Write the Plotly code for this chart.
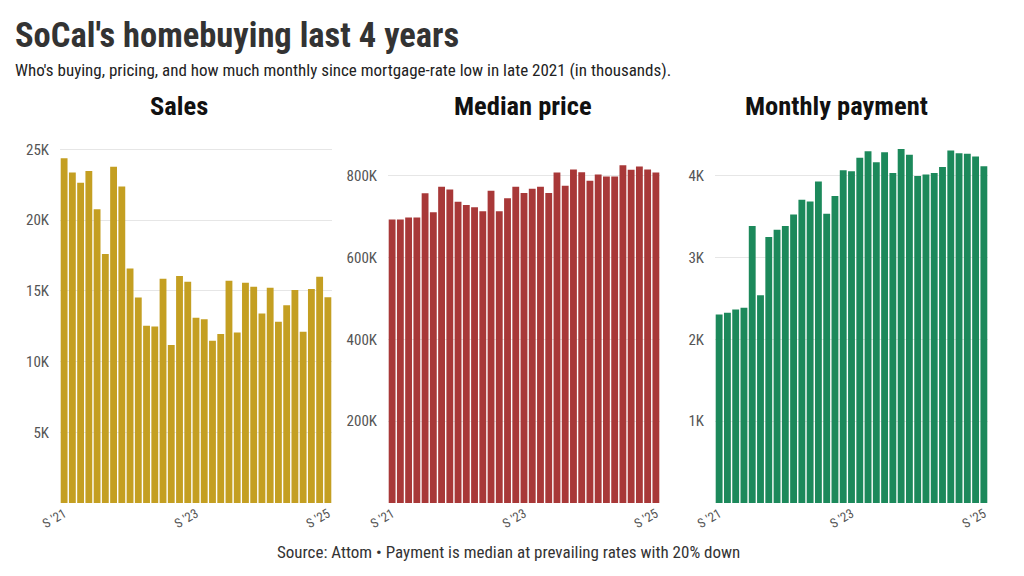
import plotly.graph_objects as go

periods = list(range(1, 34))
tick_positions = [1, 17, 33]
tick_labels = ["S '21", "S '23", "S '25"]

sales = [24.36, 23.35, 22.64, 23.46, 20.76, 17.6, 23.77, 22.36, 16.58, 14.53,
         12.53, 12.48, 15.85, 11.16, 16.04, 15.64, 13.09, 12.98, 11.46, 11.94,
         15.71, 12.05, 15.57, 15.28, 13.4, 15.21, 12.81, 13.97, 15.05, 12.1,
         15.12, 15.99, 14.55]
sales = [v * 1000 for v in sales]

price = [692.7, 692.7, 697.6, 697.6, 756.7, 710.5, 773, 766.4, 736.5, 728.2,
         722.6, 712.9, 763.3, 712.9, 744.5, 773, 757.4, 768.1, 773, 757.4,
         807.8, 775.4, 815.1, 808.5, 787.6, 802.9, 798, 798, 825.5, 814.4,
         822.4, 815.1, 807.8]
price = [v * 1000 for v in price]

payment = [2.305, 2.325, 2.366, 2.387, 3.387, 2.54, 3.252, 3.341, 3.387, 3.528,
           3.707, 3.687, 3.931, 3.537, 3.752, 4.069, 4.057, 4.22, 4.301, 4.167,
           4.289, 4.033, 4.329, 4.256, 3.996, 4.016, 4.033, 4.106, 4.309, 4.277,
           4.268, 4.235, 4.118]
payment = [v * 1000 for v in payment]

sales_ticks = [5000, 10000, 15000, 20000, 25000]
sales_ticktext = ["5K", "10K", "15K", "20K", "25K"]
price_ticks = [200000, 400000, 600000, 800000]
price_ticktext = ["200K", "400K", "600K", "800K"]
pay_ticks = [1000, 2000, 3000, 4000]
pay_ticktext = ["1K", "2K", "3K", "4K"]

FONT = "Roboto Condensed, Liberation Sans Narrow, DejaVu Sans Condensed, Roboto, sans-serif"
W, H = 1024, 576
OFF = 8  # page body margin compensation


def px(x):
    return (x - OFF) / W


def py(y):
    return (H - (y - OFF)) / H


fig = go.Figure()
panels = [
    ("x", "y", sales, "#C49F22", sales_ticks, sales_ticktext, 25160, "Sales", (60, 332), 179),
    ("x2", "y2", price, "#A83838", price_ticks, price_ticktext, 870000, "Median price", (388, 660), 523),
    ("x3", "y3", payment, "#1C895B", pay_ticks, pay_ticktext, 4352, "Monthly payment", (715, 988), 836),
]

ydom = [py(503), py(147)]
annotations = []
for i, (xa, ya, vals, color, tv, tt, ymax, title, (x0, x1), tx) in enumerate(panels):
    fig.add_trace(go.Bar(x=periods, y=vals, marker_color=color, marker_line_width=0,
                         xaxis=xa, yaxis=ya, showlegend=False))
    sfx = "" if i == 0 else str(i + 1)
    fig.layout["xaxis" + sfx] = dict(
        domain=[px(x0), px(x1)], anchor=ya, range=[0.5, 33.5], automargin=False,
        tickvals=tick_positions, ticktext=tick_labels, tickangle=-30,
        showgrid=False, zeroline=False, showline=False, ticks="",
        tickfont=dict(family=FONT, size=13, color="#555555"),
    )
    fig.layout["yaxis" + sfx] = dict(
        domain=ydom, anchor=xa, range=[0, ymax], automargin=False,
        tickvals=tv, ticktext=tt, showgrid=True, gridcolor="#E6E6E6",
        zeroline=False, showline=False, ticks="", ticklabelstandoff=10,
        tickfont=dict(family=FONT, size=15, color="#555555"),
    )
    annotations.append(dict(text="<b>" + title + "</b>", x=px(tx), y=py(106),
                            xref="paper", yref="paper", showarrow=False,
                            xanchor="center", yanchor="middle",
                            font=dict(family=FONT, size=26.5, color="#111111")))

annotations.append(dict(text="<b>SoCal's homebuying last 4 years</b>", x=px(13), y=py(35),
                        xref="paper", yref="paper", showarrow=False, xanchor="left", yanchor="middle",
                        font=dict(family=FONT, size=34.5, color="#333333")))
annotations.append(dict(text="Who's buying, pricing, and how much monthly since mortgage-rate low in late 2021 (in thousands).",
                        x=px(13), y=py(70), xref="paper", yref="paper", showarrow=False,
                        xanchor="left", yanchor="middle",
                        font=dict(family=FONT, size=17, color="#222222")))
annotations.append(dict(text="Source: Attom \u2022 Payment is median at prevailing rates with 20% down",
                        x=px(508), y=py(552), xref="paper", yref="paper", showarrow=False,
                        xanchor="center", yanchor="middle",
                        font=dict(family=FONT, size=17, color="#333333")))

fig.update_layout(
    width=W, height=H, margin=dict(l=0, r=0, t=0, b=0, autoexpand=False),
    paper_bgcolor="white", plot_bgcolor="white", bargap=0.17,
    annotations=annotations,
)

fig.write_html("out.html")
